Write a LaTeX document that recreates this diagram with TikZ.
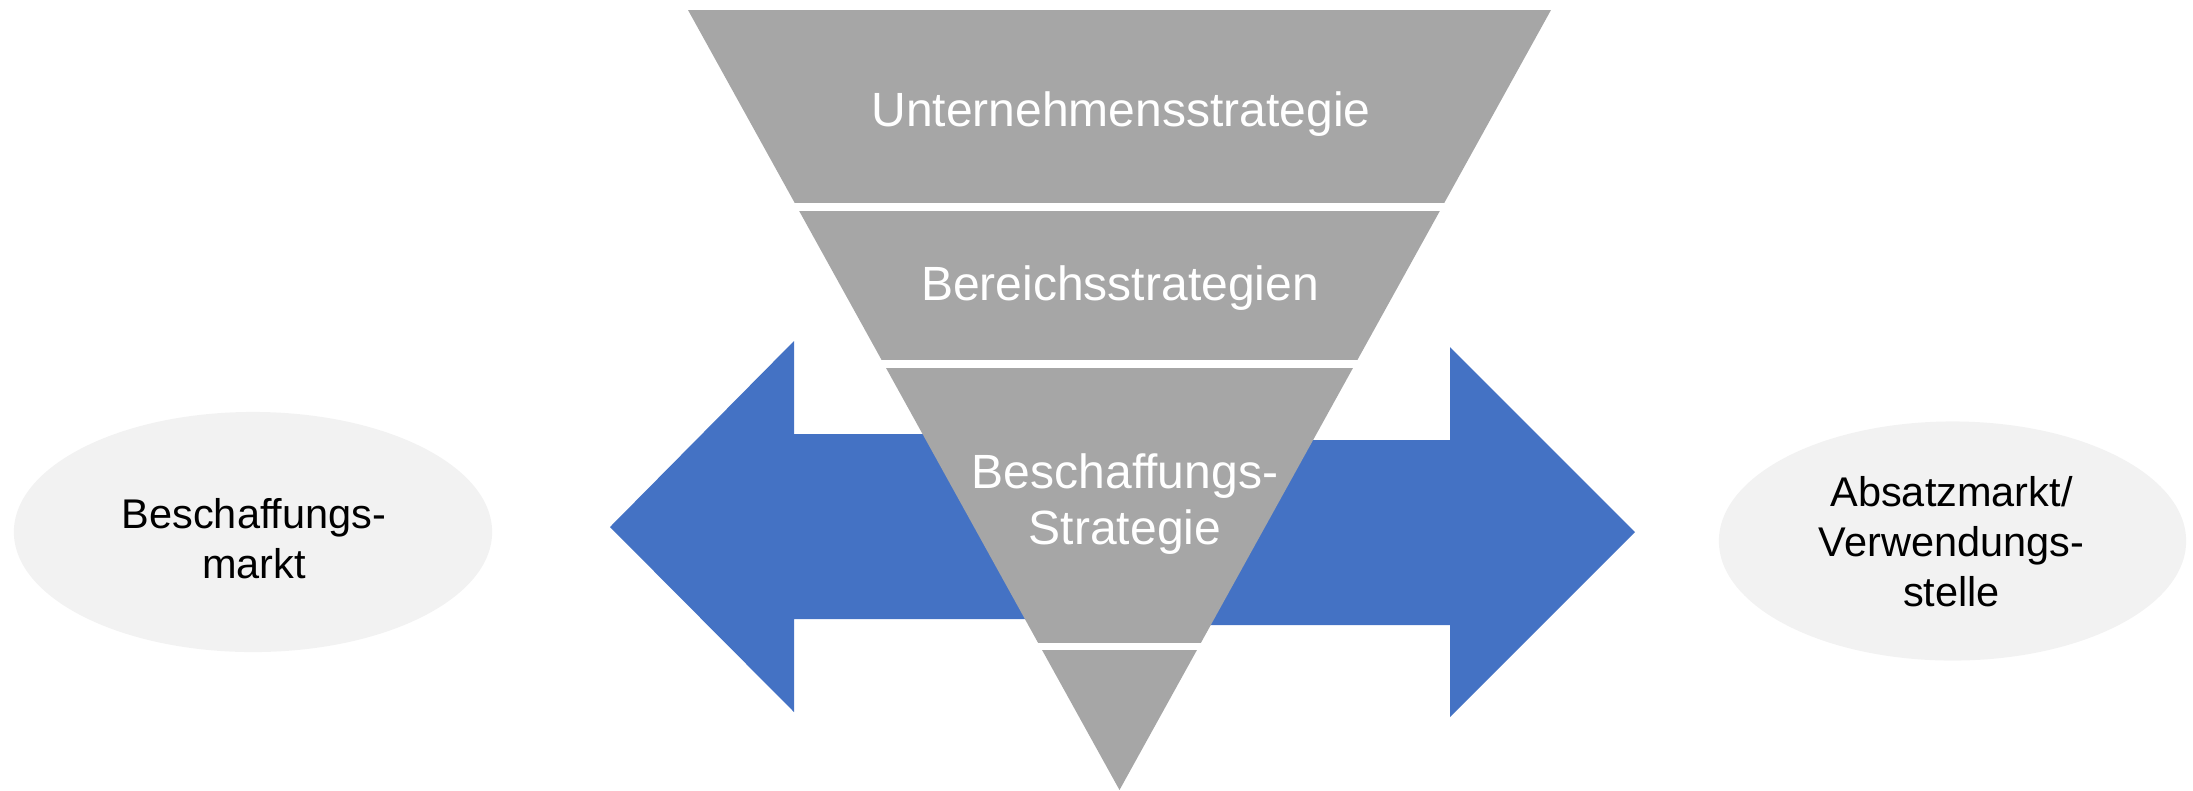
\documentclass[tikz,border=0pt]{standalone}
\usepackage{fontspec}
\setmainfont{Liberation Sans}
\usetikzlibrary{shapes.geometric,calc}
\definecolor{funnelgray}{HTML}{A6A6A6}
\definecolor{arrowblue}{HTML}{4472C4}
\definecolor{marketfill}{HTML}{F2F2F2}

\begin{document}
\begin{tikzpicture}[x=0.01cm,y=-0.01cm]
    % Style definitions for the markets and the funnel levels
    \tikzset{market/.style={ellipse, fill=marketfill, inner sep=0pt, minimum width=4.78cm, minimum height=2.40cm}}
    \tikzset{markettext/.style={inner sep=0pt, align=center, font=\fontsize{11.8}{14.2}\selectfont}}
    \tikzset{levellabel/.style={text=white, inner sep=0pt, align=center, font=\fontsize{13.66}{16.1}\selectfont}}
    \tikzstyle{level} = [fill=funnelgray]
    \tikzstyle{bigarrow} = [fill=arrowblue]

    \useasboundingbox (0,0) rectangle (2193,790);

    % Corners of the funnel
    \coordinate (tl) at (688,10);
    \coordinate (tr) at (1551,10);
    \coordinate (apex) at (1119.5,790);

    % Arrows behind the funnel
    \fill[bigarrow] (610,527) -- (794,341) -- (794,434) -- (1119,434) -- (1119,619) -- (794,619) -- (794,712) -- cycle;
    \fill[bigarrow] (1635,532) -- (1450,347) -- (1450,440) -- (1119,440) -- (1119,625) -- (1450,625) -- (1450,717) -- cycle;

    % Funnel levels
    \foreach \a/\b in {0/0.2474, 0.2577/0.4487, 0.4590/0.8115, 0.8205/1}
        \fill[level] ($(tl)!\a!(apex)$) -- ($(tr)!\a!(apex)$) -- ($(tr)!\b!(apex)$) -- ($(tl)!\b!(apex)$) -- cycle;

    % Level labels
    \node (corporate) [levellabel, anchor=base] at (1121,126) {Unternehmensstrategie};
    \node (division) [levellabel, anchor=base] at (1120,300) {Bereichsstrategien};
    \node (procurement) [levellabel] at (1125,504) {Beschaffungs-\\Strategie};

    % Markets on both sides
    \node (supply) [market] at (253,532) {};
    \node (supplytext) [markettext] at ($(supply)+(1,7)$) {Beschaffungs-\\markt};
    \node (sales) [market, minimum width=4.67cm, minimum height=2.39cm] at (1952.5,541) {};
    \node (salestext) [markettext] at ($(sales)+(-1,1)$) {Absatzmarkt/\\Verwendungs-\\stelle};
\end{tikzpicture}
\end{document}
